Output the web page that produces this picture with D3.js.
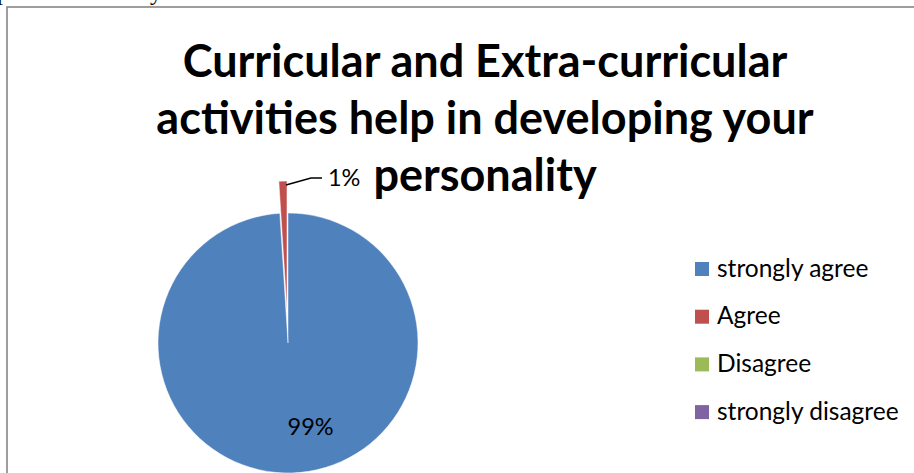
<!DOCTYPE html>
<html>
<head>
<meta charset="utf-8">
<script src="https://cdn.jsdelivr.net/npm/d3@7/dist/d3.min.js"></script>
<style>
  html, body { margin: 0; padding: 0; background: #fff; overflow: hidden; }
  svg { display: block; }
</style>
</head>
<body>
<svg id="chart" width="914" height="473"></svg>
<script>
// ---- data ----
const titleLines = ["Curricular and Extra-curricular", "activities help in developing your", "personality"];
const categories = ["strongly agree", "Agree", "Disagree", "strongly disagree"];
const values = [99, 1, 0, 0];
const colors = ["#4F81BD", "#C0504D", "#9BBB59", "#8064A2"];
const percentLabels = ["99%", "1%", "", ""];

const svg = d3.select("#chart");

// fragment of surrounding document text, cut off at top
svg.append("text").attr("x", -3).attr("y", 0)
  .attr("font-family", "Liberation Serif").attr("font-size", 24).attr("fill", "#000")
  .text("p");
svg.append("text").attr("x", 150).attr("y", 0)
  .attr("font-family", "Liberation Serif").attr("font-size", 24).attr("fill", "#000")
  .text("y");

// chart border (extends beyond view right/bottom)
svg.append("rect").attr("x", 7).attr("y", 7).attr("width", 1000).attr("height", 1000)
  .attr("fill", "none").attr("stroke", "#868686").attr("stroke-width", 1.6);

// title
const title = svg.append("text")
  .attr("text-anchor", "middle")
  .attr("font-family", "Lato, 'Open Sans', sans-serif")
  .attr("font-weight", "bold")
  .attr("font-size", 45)
  .attr("fill", "#000");
titleLines.forEach((t, i) => {
  title.append("tspan").attr("x", 485).attr("y", 77 + i * 57).text(t);
});

// pie
const cx = 288, cy = 343, R = 130, explode = 32;
const pie = d3.pie().sort(null).value(d => d.v).startAngle(0).endAngle(2 * Math.PI);
const data = values.map((v, i) => ({ v, name: categories[i], color: colors[i], label: percentLabels[i] }));
const arcs = pie(data);
const arc = d3.arc().innerRadius(0).outerRadius(R);

const g = svg.append("g").attr("transform", `translate(${cx},${cy})`);

function offsetOf(d) {
  if (d.index !== 1) return [0, 0];
  const mid = (d.startAngle + d.endAngle) / 2;
  return [Math.sin(mid) * explode, -Math.cos(mid) * explode];
}

g.selectAll("path.slice")
  .data(arcs.filter(d => d.value > 0))
  .join("path")
  .attr("class", "slice")
  .attr("d", arc)
  .attr("fill", d => d.data.color)
  .attr("stroke", "#fff")
  .attr("stroke-width", 0.5)
  .attr("transform", d => `translate(${offsetOf(d)})`);

// 99% label inside
const big = arcs[0];
const labelArc = d3.arc().innerRadius(84).outerRadius(84);
const [bx, by] = labelArc.centroid(big);
g.append("text")
  .attr("x", bx + 20).attr("y", by + 8)
  .attr("text-anchor", "middle")
  .attr("font-family", "Lato, 'Open Sans', sans-serif")
  .attr("font-size", 23.5)
  .attr("fill", "#000")
  .text(big.data.label);

// 1% label with leader line
const small = arcs[1];
const [ox, oy] = offsetOf(small);
const edgeR = R - 4;
const sx = Math.sin(small.endAngle) * edgeR + ox - 1;
const sy = -Math.cos(small.endAngle) * edgeR + oy;
const p1 = [sx, sy];
const p2 = [sx + 25, sy - 7];
const p3 = [p2[0] + 11, p2[1]];
g.append("path")
  .attr("d", d3.line()([p1, p2, p3]))
  .attr("fill", "none").attr("stroke", "#000").attr("stroke-width", 1.5);
g.append("text")
  .attr("x", p3[0] + 6).attr("y", p3[1] + 8)
  .attr("font-family", "Lato, 'Open Sans', sans-serif")
  .attr("font-size", 23.5)
  .attr("fill", "#000")
  .text(small.data.label);

// legend
const legend = svg.append("g").attr("transform", "translate(695,269)");
const rowH = 47.7;
const items = legend.selectAll("g.item").data(data).join("g")
  .attr("class", "item")
  .attr("transform", (d, i) => `translate(0,${i * rowH})`);
items.append("rect").attr("x", 0).attr("y", -7).attr("width", 14).attr("height", 14)
  .attr("fill", d => d.color);
items.append("text").attr("x", 22).attr("y", 7.5)
  .attr("font-family", "Lato, 'Open Sans', sans-serif")
  .attr("font-size", 24.5)
  .attr("fill", "#000")
  .text(d => d.name);
</script>
</body>
</html>
